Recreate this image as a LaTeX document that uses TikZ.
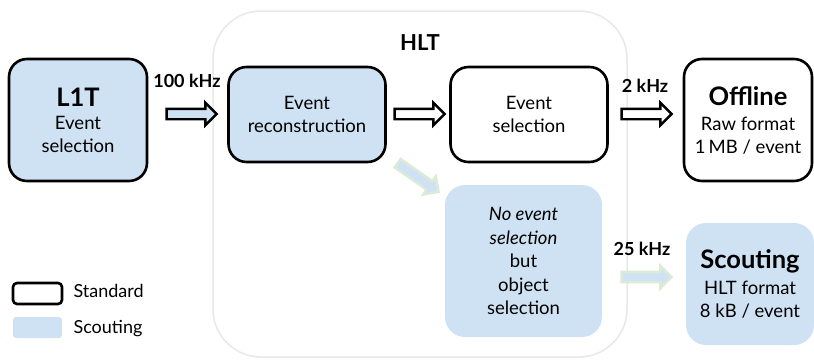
\documentclass[tikz,border=0pt]{standalone}
\usepackage{fontspec}
\setmainfont{Lato}
\usepackage{xcolor}
\usepackage{tikz}
\usetikzlibrary{shapes.arrows,calc}
\definecolor{scoutblue}{HTML}{CFE2F3}
\definecolor{scoutgreen}{HTML}{DCEBD5}
\definecolor{hltgray}{HTML}{E8E8E8}

\begin{document}
\begin{tikzpicture}[x=1pt,y=-1pt]
            \tikzset{stdbox/.style = {draw, line width=2.6pt, rounded corners=18pt, align=center, inner sep=0pt, font=\fontsize{18.5}{23}\selectfont}}
            \tikzset{scbox/.style = {stdbox, fill=scoutblue}}
            \tikzset{scfree/.style = {fill=scoutblue, rounded corners=20pt, align=center, inner sep=0pt, font=\fontsize{18.5}{23.5}\selectfont}}
            \tikzset{blockarr/.style = {single arrow, draw, line width=2.4pt, minimum height=50pt, inner xsep=0pt, inner ysep=4pt, single arrow head extend=6pt, single arrow tip angle=90}}
            \tikzset{greenarr/.style = {blockarr, draw=scoutgreen, fill=scoutblue}}
            \tikzset{rate/.style = {anchor=base, font=\fontsize{18}{20}\selectfont\bfseries}}
            \tikzset{legtext/.style = {anchor=base west, font=\fontsize{18}{20}\selectfont}}
            \newcommand{\headfont}{\fontsize{25.5}{27}\selectfont\bfseries}

            \useasboundingbox (0,0) rectangle (814,359);

            % HLT frame
            \node[draw=hltgray, line width=1.5pt, rounded corners=48pt, minimum width=414pt, minimum height=346pt] (hlt) at (420,184) {};
            \node[anchor=base, font=\fontsize{22}{24}\selectfont\bfseries] (hltlabel) at (420,50) {HLT};

            % boxes
            \node[scbox, minimum width=138pt, minimum height=122pt] (l1t) at (78,120) {{\headfont L1T}\\Event\\selection};
            \node[scbox, minimum width=157pt, minimum height=95pt] (reco) at (307,114.5) {Event\\reconstruction};
            \node[stdbox, minimum width=157pt, minimum height=95pt] (sel) at (529,114.5) {Event\\selection};
            \node[stdbox, minimum width=128pt, minimum height=122pt] (off) at (748,120) {{\headfont Offline}\\[2pt]Raw format\\1\,MB / event};
            \node[scfree, minimum width=157pt, minimum height=152pt] (noev) at (523.5,261) {\textit{No event}\\\textit{selection}\\but\\object\\selection};
            \node[scfree, minimum width=128pt, minimum height=122pt] (scout) at (750,284) {{\headfont Scouting}\\[2pt]HLT format\\8 kB / event};

            % arrows
            \node[blockarr, fill=scoutblue] (a1) at (189,114) {};
            \foreach \x/\n in {417/a2,644/a3}
            {
              \node[blockarr, fill=white] (\n) at (\x,114) {};
            }
            \node[greenarr, rotate=-35] (a4) at (416,176) {};
            \node[greenarr] (a5) at (644,277) {};

            % rates
            \node[rate] (r1) at (187,87) {100 kHz};
            \node[rate] (r2) at (645,92) {2 kHz};
            \node[rate] (r3) at (642,255) {25 kHz};

            % legend
            \node[draw, line width=2.6pt, rounded corners=4pt, minimum width=49pt, minimum height=21pt, inner sep=0pt] (lstd) at (37.5,293.5) {};
            \node[fill=scoutblue, rounded corners=3pt, minimum width=49pt, minimum height=21pt, inner sep=0pt] (lsc) at (37.5,327.5) {};
            \node[legtext] (lstdtext) at (70,297) {Standard};
            \node[legtext] (lsctext) at (70,333) {Scouting};
\end{tikzpicture}
\end{document}
